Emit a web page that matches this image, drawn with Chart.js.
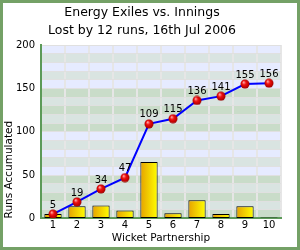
<!DOCTYPE html>
<html>
<head>
<meta charset="utf-8">
<script src="https://cdn.jsdelivr.net/npm/chart.js@4.4.0/dist/chart.umd.min.js"></script>
<style>
  html, body { margin: 0; padding: 0; background: #fff; }
  #wrap { width: 300px; height: 250px; position: relative; }
</style>
</head>
<body>
<div id="wrap"><canvas id="grafico" width="300" height="250"></canvas></div>
<script>
// dados
let wickets = ["1", "2", "3", "4", "5", "6", "7", "8", "9", "10"];
let parcerias = [5, 14, 15, 9, 65, 6, 21, 5, 14, 1];
let acumulado = [5, 19, 34, 47, 109, 115, 136, 141, 155, 156];
let titulo = ["Energy Exiles vs. Innings", "Lost by 12 runs, 16th Jul 2006"];

let fonte = "'DejaVu Sans', Verdana, sans-serif";

// bolinha vermelha
function criarBola() {
  let c = document.createElement("canvas");
  c.width = 10; c.height = 10;
  let g = c.getContext("2d");
  let rg = g.createRadialGradient(3.6, 3.2, 0.4, 5, 5, 5);
  rg.addColorStop(0, "#ffa0a0");
  rg.addColorStop(0.35, "#f01010");
  rg.addColorStop(0.8, "#b80000");
  rg.addColorStop(1, "#700000");
  g.fillStyle = rg;
  g.beginPath();
  g.arc(5, 5, 4.5, 0, Math.PI * 2);
  g.fill();
  return c;
}
let bola = criarBola();

// faixas de fundo
let fundo = {
  id: "fundo",
  beforeDraw(chart) {
    let ctx = chart.ctx;
    let a = chart.chartArea;
    let y = chart.scales.y;
    ctx.save();
    for (let v = 0; v < 200; v += 10) {
      let grupo = Math.floor(v / 50);
      let j = (v / 10) % 5;
      let cor;
      if (j % 2 === 1) cor = "#d9e4e1";
      else cor = (grupo % 2 === 0) ? "#c9dcc9" : "#e6ebff";
      let y1 = y.getPixelForValue(v + 10);
      let y0 = y.getPixelForValue(v);
      ctx.fillStyle = cor;
      ctx.fillRect(a.left, y1, a.right - a.left, y0 - y1);
    }
    ctx.restore();
  },
  afterDraw(chart) {
    let ctx = chart.ctx;
    ctx.save();
    // rotulos da linha
    let meta = chart.getDatasetMeta(1);
    ctx.font = "10px " + fonte;
    ctx.fillStyle = "#000";
    ctx.textAlign = "center";
    ctx.textBaseline = "bottom";
    meta.data.forEach((p, i) => {
      ctx.fillText(String(acumulado[i]), p.x, p.y - 4);
    });
    // borda
    ctx.strokeStyle = "#74a166";
    ctx.lineWidth = 3;
    ctx.strokeRect(1.5, 1.5, chart.width - 3, chart.height - 3);
    ctx.restore();
  }
};

let ctx = document.getElementById("grafico").getContext("2d");

let chart = new Chart(ctx, {
  type: "bar",
  data: {
    labels: wickets,
    datasets: [
      {
        type: "bar",
        data: parcerias,
        order: 2,
        borderColor: "#000",
        borderWidth: 1,
        borderSkipped: false,
        barPercentage: 0.72,
        categoryPercentage: 1,
        backgroundColor: function (c) {
          let x = c.chart.scales.x;
          if (!x || !x.width || c.dataIndex === undefined) return "#f0c800";
          let px = x.getPixelForValue(c.dataIndex);
          let w = (x.width / wickets.length) * 0.72;
          if (!isFinite(px) || !isFinite(w)) return "#f0c800";
          let g = c.chart.ctx.createLinearGradient(px - w / 2, 0, px + w / 2, 0);
          g.addColorStop(0, "#e6a200");
          g.addColorStop(1, "#ffff00");
          return g;
        }
      },
      {
        type: "line",
        data: acumulado,
        order: 1,
        borderColor: "#0000ff",
        borderWidth: 2,
        pointStyle: bola,
        tension: 0
      }
    ]
  },
  options: {
    responsive: false,
    animation: false,
    layout: { padding: { top: 0, right: 19, bottom: 5, left: 3 } },
    plugins: {
      legend: { display: false },
      tooltip: { enabled: false },
      title: {
        display: true,
        text: titulo,
        color: "#000",
        font: { family: fonte, size: 12.5, weight: "normal", lineHeight: 1.5 },
        padding: { top: 3, bottom: 4.5 }
      }
    },
    scales: {
      x: {
        offset: true,
        grid: { offset: true, color: "#e6e6e6", lineWidth: 2, drawTicks: false },
        border: { color: "#5c9a58", width: 2 },
        ticks: { color: "#000", font: { family: fonte, size: 10 }, padding: 1 },
        title: {
          display: true,
          text: "Wicket Partnership",
          color: "#000",
          font: { family: fonte, size: 10.5 },
          padding: { top: 0, bottom: 0 }
        }
      },
      y: {
        min: 0,
        max: 200,
        grid: { color: "#e0e0e0", lineWidth: 1, drawTicks: false },
        border: { color: "#5c9a58", width: 2 },
        ticks: {
          stepSize: 10,
          autoSkip: false,
          color: "#000",
          font: { family: fonte, size: 10 },
          padding: 6,
          callback: function (v) { return v % 50 === 0 ? v : ""; }
        },
        title: {
          display: true,
          text: "Runs Accumulated",
          align: "start",
          color: "#000",
          font: { family: fonte, size: 10.5 },
          padding: { top: 0, bottom: 0 }
        },
        afterFit: function (s) { s.width = 38; }
      }
    }
  },
  plugins: [fundo]
});
</script>
</body>
</html>
